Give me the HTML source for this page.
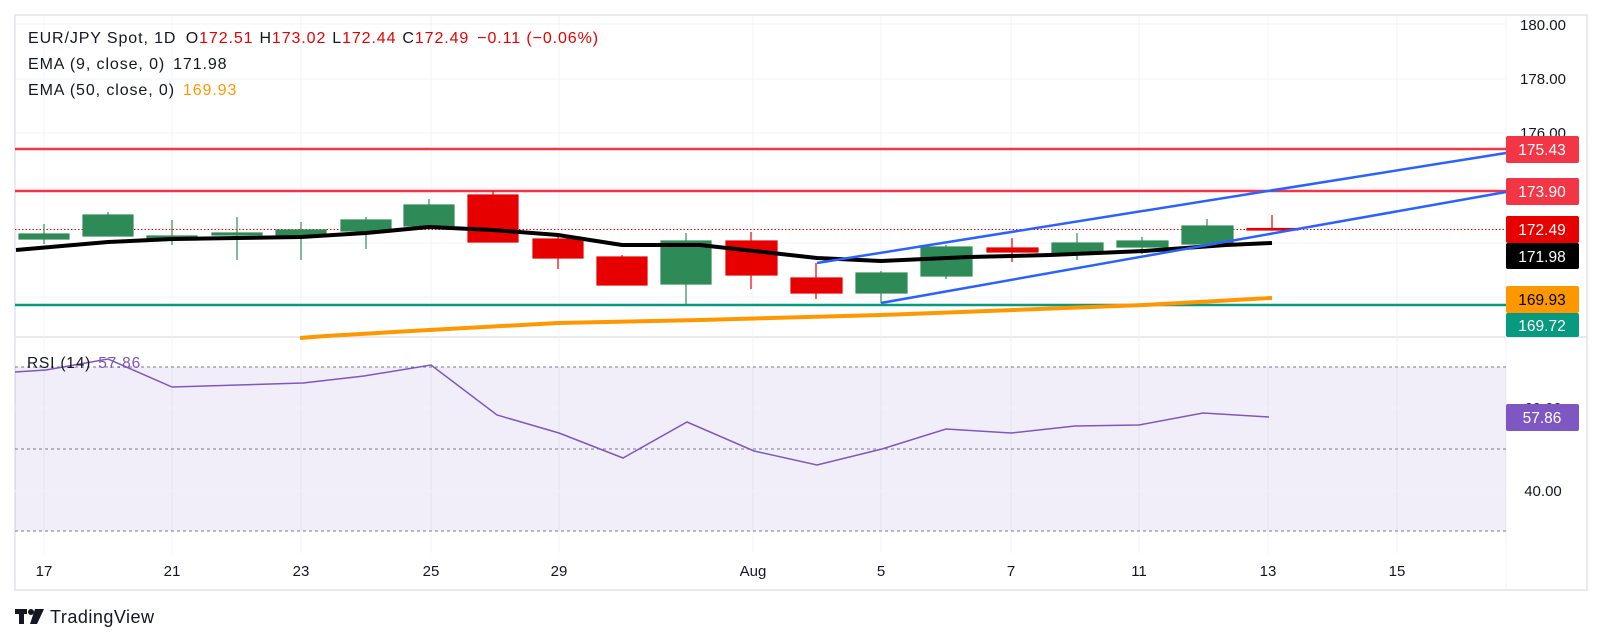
<!DOCTYPE html>
<html><head><meta charset="utf-8"><style>
html,body{margin:0;padding:0;background:#fff;}
svg{display:block;font-family:"Liberation Sans",sans-serif;}
</style></head><body>
<svg width="1602" height="644" viewBox="0 0 1602 644" xmlns="http://www.w3.org/2000/svg">
<rect width="1602" height="644" fill="#fff"/>
<rect x="15" y="15" width="1572" height="575" fill="none" stroke="#e0e3eb" stroke-width="1.5"/>
<line x1="15" y1="337" x2="1587" y2="337" stroke="#e0e3eb" stroke-width="1.5"/>
<line x1="1506" y1="15" x2="1506" y2="590" stroke="#f0f3fa" stroke-width="1"/>
<g stroke="#f0f3fa" stroke-width="1">
<line x1="44" y1="15" x2="44" y2="553"/><line x1="172" y1="15" x2="172" y2="553"/>
<line x1="301" y1="15" x2="301" y2="553"/><line x1="431" y1="15" x2="431" y2="553"/>
<line x1="559" y1="15" x2="559" y2="553"/><line x1="753" y1="15" x2="753" y2="553"/>
<line x1="881" y1="15" x2="881" y2="553"/><line x1="1011" y1="15" x2="1011" y2="553"/>
<line x1="1139" y1="15" x2="1139" y2="553"/><line x1="1268" y1="15" x2="1268" y2="553"/>
<line x1="1397" y1="15" x2="1397" y2="553"/>
<line x1="15" y1="24" x2="1506" y2="24"/><line x1="15" y1="79" x2="1506" y2="79"/>
<line x1="15" y1="133" x2="1506" y2="133"/><line x1="15" y1="188" x2="1506" y2="188"/>
<line x1="15" y1="243" x2="1506" y2="243"/><line x1="15" y1="297" x2="1506" y2="297"/>
</g>
<g font-size="15" fill="#131722" text-anchor="middle">
<text x="1543" y="30">180.00</text>
<text x="1543" y="84">178.00</text>
<text x="1543" y="138">176.00</text>
</g>
<line x1="15" y1="149" x2="1506" y2="149" stroke="#f23645" stroke-width="2.5"/>
<line x1="15" y1="191" x2="1506" y2="191" stroke="#f23645" stroke-width="2.5"/>
<line x1="15" y1="305" x2="1506" y2="305" stroke="#089981" stroke-width="2.5"/>
<line x1="15" y1="229.5" x2="1506" y2="229.5" stroke="#e60000" stroke-width="1" stroke-dasharray="1.5,2"/>
<polyline fill="none" stroke="#ff9800" stroke-width="4" points="300,338 326,336 429,330 558,323 700,320 881,315 1144,305 1272,298"/>
<g stroke-width="1.2">
<g fill="#2e8b57" stroke="#2e8b57">
<line x1="44" y1="224" x2="44" y2="244"/><rect x="19" y="234" width="50" height="5"/>
<line x1="108" y1="212" x2="108" y2="236"/><rect x="83" y="215" width="50" height="21"/>
<line x1="172" y1="220" x2="172" y2="245"/><rect x="147" y="236" width="50" height="4"/>
<line x1="237" y1="217" x2="237" y2="260"/><rect x="212" y="233" width="50" height="2"/>
<line x1="301" y1="222" x2="301" y2="260"/><rect x="276" y="230" width="50" height="5"/>
<line x1="366" y1="217" x2="366" y2="249"/><rect x="341" y="220" width="50" height="11"/>
<line x1="429" y1="199" x2="429" y2="226"/><rect x="404" y="205" width="50" height="21"/>
<line x1="686" y1="233" x2="686" y2="304"/><rect x="661" y="241" width="50" height="43"/>
<line x1="881" y1="271" x2="881" y2="303"/><rect x="856" y="273" width="51" height="20"/>
<line x1="946" y1="245" x2="946" y2="279"/><rect x="921" y="247" width="51" height="29"/>
<line x1="1077" y1="233" x2="1077" y2="260"/><rect x="1052" y="243" width="51" height="10"/>
<line x1="1142" y1="237" x2="1142" y2="254"/><rect x="1117" y="241" width="51" height="6"/>
<line x1="1207" y1="219" x2="1207" y2="244"/><rect x="1182" y="226" width="51" height="18"/>
</g>
<g fill="#e60000" stroke="#e60000">
<line x1="493" y1="191" x2="493" y2="242"/><rect x="468" y="195" width="50" height="47"/>
<line x1="558" y1="233" x2="558" y2="269"/><rect x="533" y="239" width="50" height="19"/>
<line x1="622" y1="255" x2="622" y2="285"/><rect x="597" y="257" width="50" height="28"/>
<line x1="751" y1="232" x2="751" y2="289"/><rect x="726" y="241" width="51" height="34"/>
<line x1="816" y1="263" x2="816" y2="299"/><rect x="791" y="278" width="51" height="15"/>
<line x1="1012" y1="238" x2="1012" y2="262"/><rect x="987" y="248" width="51" height="4"/>
<line x1="1272" y1="215" x2="1272" y2="230"/><rect x="1247" y="228.5" width="51" height="1.5"/>
</g>
</g>
<polyline fill="none" stroke="#000" stroke-width="4" stroke-linejoin="round" points="16,250 108,242 173,239 237,238 301,237 366,233 429,227 493,230 558,235 622,245 700,245 817,258 881,261 969,257 1050,255 1144,251 1226,245 1272,243"/>
<line x1="817" y1="263" x2="1506" y2="153" stroke="#2962ff" stroke-width="2.5"/>
<line x1="881" y1="303" x2="1506" y2="192" stroke="#2962ff" stroke-width="2.5"/>
<g font-size="15.5" text-anchor="middle">
<rect x="1506" y="136" width="73" height="27" rx="2" fill="#f23645"/><text x="1542" y="155" fill="#fff">175.43</text>
<rect x="1506" y="178" width="73" height="27" rx="2" fill="#f23645"/><text x="1542" y="197" fill="#fff">173.90</text>
<rect x="1506" y="216" width="73" height="27" rx="2" fill="#e60000"/><text x="1542" y="235" fill="#fff">172.49</text>
<rect x="1506" y="243" width="73" height="26" rx="2" fill="#000"/><text x="1542" y="262" fill="#fff">171.98</text>
<rect x="1506" y="286" width="73" height="27" rx="2" fill="#ff9800"/><text x="1542" y="305" fill="#000">169.93</text>
<rect x="1506" y="313" width="73" height="24" rx="2" fill="#089981"/><text x="1542" y="331" fill="#fff">169.72</text>
</g>
<g font-size="16" fill="#131722" letter-spacing="0.9">
<text x="28" y="43">EUR/JPY Spot, 1D <tspan dx="4">O</tspan><tspan fill="#e60000">172.51</tspan><tspan dx="6">H</tspan><tspan fill="#e60000">173.02</tspan><tspan dx="6">L</tspan><tspan fill="#e60000">172.44</tspan><tspan dx="6">C</tspan><tspan fill="#e60000">172.49</tspan><tspan dx="8" fill="#e60000">−0.11 (−0.06%)</tspan></text>
<text x="28" y="69">EMA (9, close, 0)<tspan dx="8">171.98</tspan></text>
<text x="28" y="95">EMA (50, close, 0)<tspan dx="8" fill="#ff9800">169.93</tspan></text>
</g>
<rect x="15" y="367" width="1491" height="164" fill="#7e57c2" fill-opacity="0.1"/>
<g stroke="#f0f3fa"><line x1="15" y1="408" x2="1506" y2="408"/><line x1="15" y1="491" x2="1506" y2="491"/></g>
<g stroke="#787b86" stroke-width="1" stroke-dasharray="3,3">
<line x1="15" y1="367" x2="1506" y2="367"/><line x1="15" y1="449" x2="1506" y2="449"/><line x1="15" y1="531" x2="1506" y2="531"/>
</g>
<polyline fill="none" stroke="#7e57c2" stroke-width="1.5" points="15,372 46,370 108,359 172,387 303,383 364,376 431,365 497,415 559,433 623,458 687,422 754,451 817,465 882,449 946,429 1011,433 1075,426 1139,425 1203,413 1269,417"/>
<text x="27" y="368" font-size="15.5" fill="#131722" letter-spacing="0.8">RSI (14) <tspan fill="#7e57c2" dx="2">57.86</tspan></text>
<text x="1543" y="413" font-size="15" fill="#131722" text-anchor="middle">60.00</text>
<rect x="1506" y="404" width="73" height="27" rx="2" fill="#7e57c2"/><text x="1542" y="423" font-size="15.5" fill="#fff" text-anchor="middle">57.86</text>
<text x="1543" y="496" font-size="15" fill="#131722" text-anchor="middle">40.00</text>
<g font-size="15" fill="#131722" text-anchor="middle">
<text x="44" y="576">17</text><text x="172" y="576">21</text><text x="301" y="576">23</text>
<text x="431" y="576">25</text><text x="559" y="576">29</text><text x="753" y="576">Aug</text>
<text x="881" y="576">5</text><text x="1011" y="576">7</text><text x="1139" y="576">11</text>
<text x="1268" y="576">13</text><text x="1397" y="576">15</text>
</g>
<g fill="#131722">
<rect x="15" y="609" width="12" height="5"/><rect x="19" y="609" width="5" height="15"/>
<circle cx="31" cy="612" r="3"/><polygon points="35,609 44,609 37,624 30,624"/>
<text x="50" y="623" font-size="18" letter-spacing="0.5">TradingView</text>
</g>
</svg>
</body></html>
